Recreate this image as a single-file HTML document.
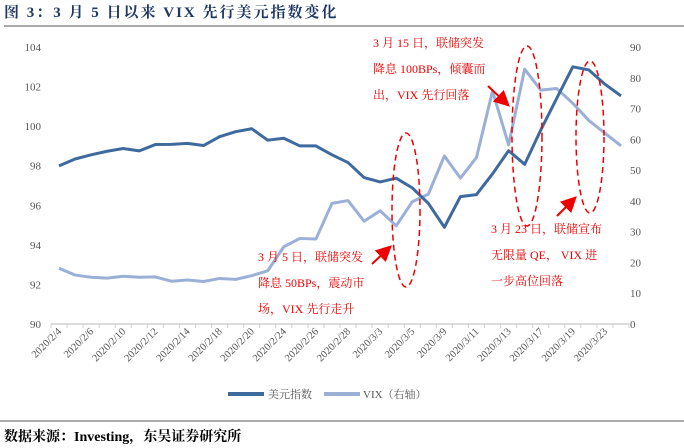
<!DOCTYPE html>
<html><head><meta charset="utf-8"><style>
body{margin:0;background:#fff;}
svg{display:block;font-family:"Liberation Serif","Noto Serif CJK SC",serif;}
</style></head><body>
<svg id="c" width="684" height="448">
<text x="4" y="17" font-size="15" font-weight="bold" fill="#1f3864" letter-spacing="2">图 3：3 月 5 日以来 VIX 先行美元指数变化</text>
<line x1="4" y1="26" x2="684" y2="26" stroke="#555" stroke-width="1"/>
<line x1="0" y1="421" x2="684" y2="421" stroke="#555" stroke-width="1"/>
<text x="4" y="441" font-size="14" font-weight="bold" fill="#000">数据来源：Investing，东吴证券研究所</text>
<g id="axes"></g><g id="series"></g>
<g fill="none" stroke="#e00" stroke-width="1.5" stroke-dasharray="6,4">
<ellipse cx="406" cy="210" rx="14" ry="77"/>
<ellipse cx="527" cy="136" rx="15" ry="90"/>
<ellipse cx="590" cy="137" rx="14" ry="76"/>
</g>
<defs><marker id="ah" markerWidth="8" markerHeight="8" refX="6" refY="4" orient="auto"><path d="M0,0L8,4L0,8z" fill="#e00"/></marker></defs>
<g stroke="#e00" stroke-width="2" marker-end="url(#ah)">
<line x1="372" y1="264" x2="389" y2="248"/>
<line x1="488" y1="86" x2="507" y2="104"/>
<line x1="557" y1="216" x2="574" y2="199"/>
</g>
<g font-size="12" fill="#e00">
<g><text x="373" y="47">3 月 15 日，联储突发</text><text x="373" y="73">降息 100BPs，倾囊而</text><text x="373" y="99">出，VIX 先行回落</text></g>
<g><text x="258" y="261">3 月 5 日，联储突发</text><text x="258" y="287">降息 50BPs，震动市</text><text x="258" y="313">场，VIX 先行走升</text></g>
<g><text x="491" y="233">3 月 23 日，联储宣布</text><text x="491" y="259">无限量 QE， VIX 进</text><text x="491" y="285">一步高位回落</text></g>
</g>
<g font-size="11" fill="#555">
<line x1="228" y1="394" x2="264" y2="394" stroke="#3e6a9e" stroke-width="4"/>
<text x="268" y="398">美元指数</text>
<line x1="324" y1="394" x2="360" y2="394" stroke="#9bb0d6" stroke-width="4"/>
<text x="363" y="398">VIX（右轴）</text>
</g>
</svg>
<script>
const dates=["2020/2/4","2020/2/5","2020/2/6","2020/2/7","2020/2/10","2020/2/11","2020/2/12","2020/2/13","2020/2/14","2020/2/17","2020/2/18","2020/2/19","2020/2/20","2020/2/21","2020/2/24","2020/2/25","2020/2/26","2020/2/27","2020/2/28","2020/3/2","2020/3/3","2020/3/4","2020/3/5","2020/3/6","2020/3/9","2020/3/10","2020/3/11","2020/3/12","2020/3/13","2020/3/16","2020/3/17","2020/3/18","2020/3/19","2020/3/20","2020/3/23","2020/3/24"];
const tickLabels=["2020/2/4","2020/2/6","2020/2/10","2020/2/12","2020/2/14","2020/2/18","2020/2/20","2020/2/24","2020/2/26","2020/2/28","2020/3/3","2020/3/5","2020/3/9","2020/3/11","2020/3/13","2020/3/17","2020/3/19","2020/3/23"];
const dxy=[97.99,98.34,98.55,98.73,98.87,98.75,99.07,99.08,99.13,99.02,99.47,99.72,99.87,99.29,99.39,99.0,99.0,98.55,98.16,97.4,97.18,97.37,96.88,96.1,94.89,96.44,96.54,97.59,98.76,98.07,99.8,101.41,103.0,102.84,102.12,101.53];
const vix=[18.1,15.9,15.2,14.9,15.5,15.2,15.3,13.9,14.3,13.8,14.8,14.5,15.7,17.3,25.1,27.8,27.6,39.2,40.1,33.4,36.8,31.9,39.7,42.2,54.6,47.4,54.1,75.7,58.2,82.8,76.0,76.5,71.7,66.1,62.0,57.9];
const leftTicks=[90,92,94,96,98,100,102,104];
const rightTicks=[0,10,20,30,40,50,60,70,80,90];
const NS="http://www.w3.org/2000/svg";
const X0=59,X1=621,Y0=324,Y1=47;
const xs=i=>X0+i*(X1-X0)/(dates.length-1);
const yL=v=>Y0-(v-90)/14*(Y0-Y1);
const yR=v=>Y0-v/90*(Y0-Y1);
function mk(t,a,p){const e=document.createElementNS(NS,t);for(const k in a)e.setAttribute(k,a[k]);p.appendChild(e);return e;}
const ax=document.getElementById('axes'),se=document.getElementById('series');
leftTicks.forEach(v=>{const t=mk('text',{x:41,y:yL(v)+4,'text-anchor':'end','font-size':11,fill:'#555'},ax);t.textContent=v;

});
rightTicks.forEach(v=>{const t=mk('text',{x:630,y:yR(v)+4,'font-size':11,fill:'#555'},ax);t.textContent=v;

});
const xl=mk('line',{x1:51,y1:Y0,x2:629,y2:Y0,stroke:'#d0d0d0','stroke-width':1.5},ax);


const step=(X1-X0)/(dates.length-1);
for(let i=0;i<=dates.length;i++){const x=X0-step/2+i*step;const l=mk('line',{x1:x,y1:Y0,x2:x,y2:Y0+4,stroke:'#d0d0d0'},ax);

}
tickLabels.forEach(d=>{const i=dates.indexOf(d);const x=xs(i)+3,y=Y0+8;
const t=mk('text',{x:x,y:y,'text-anchor':'end','font-size':10.5,fill:'#555',transform:`rotate(-45 ${x} ${y})`},ax);t.textContent=d;

});
const pv=vix.map((v,i)=>xs(i)+','+yR(v)).join(' ');
const l2=mk('polyline',{points:pv,fill:'none',stroke:'#9bb0d6','stroke-width':3,'stroke-linejoin':'round'},se);


const pd=dxy.map((v,i)=>xs(i)+','+yL(v)).join(' ');
const l1=mk('polyline',{points:pd,fill:'none',stroke:'#3e6a9e','stroke-width':3,'stroke-linejoin':'round'},se);


</script>
</body></html>
